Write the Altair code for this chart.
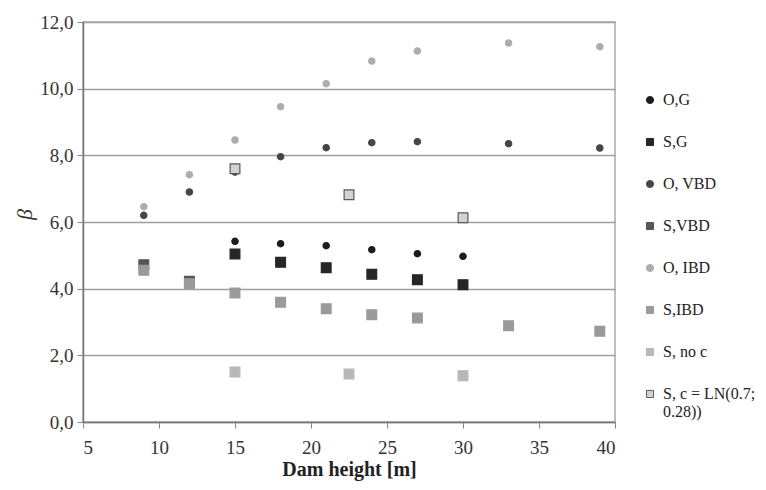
import altair as alt
import pandas as pd

series_names = ["O,G", "S,G", "O, VBD", "S,VBD", "O, IBD", "S,IBD", "S, no c",
                "S, c = LN(0.7; 0.28))"]
series_shapes = ["circle", "square", "circle", "square", "circle", "square", "square", "square"]
series_fill = ["#1c1c1c", "#262626", "#464646", "#555555", "#adadad", "#9a9a9a", "#b8b8b8", "#d2d2d2"]
series_stroke = ["#1c1c1c", "#262626", "#464646", "#555555", "#adadad", "#9a9a9a", "#b8b8b8", "#5a5a5a"]

og_x = [15, 18, 21, 24, 27, 30]
og_y = [5.42, 5.35, 5.29, 5.17, 5.05, 4.97]
sg_x = [15, 18, 21, 24, 27, 30]
sg_y = [5.04, 4.79, 4.63, 4.43, 4.27, 4.12]
ovbd_x = [9, 12, 15, 18, 21, 24, 27, 33, 39]
ovbd_y = [6.2, 6.9, 7.5, 7.96, 8.23, 8.38, 8.41, 8.35, 8.22]
svbd_x = [9, 12]
svbd_y = [4.72, 4.22]
oibd_x = [9, 12, 15, 18, 21, 24, 27, 33, 39]
oibd_y = [6.46, 7.42, 8.46, 9.46, 10.15, 10.83, 11.13, 11.37, 11.26]
sibd_x = [9, 12, 15, 18, 21, 24, 27, 33, 39]
sibd_y = [4.55, 4.15, 3.87, 3.59, 3.4, 3.22, 3.12, 2.89, 2.72]
snoc_x = [15, 22.5, 30]
snoc_y = [1.5, 1.44, 1.39]
sc_x = [15, 22.5, 30]
sc_y = [7.6, 6.82, 6.13]

all_x = [og_x, sg_x, ovbd_x, svbd_x, oibd_x, sibd_x, snoc_x, sc_x]
all_y = [og_y, sg_y, ovbd_y, svbd_y, oibd_y, sibd_y, snoc_y, sc_y]

rows = []
for name, xs, ys in zip(series_names, all_x, all_y):
    for xv, yv in zip(xs, ys):
        rows.append({"series": name, "h": xv, "beta": yv})
df = pd.DataFrame(rows)

FONT = "Liberation Serif"

legend = alt.Legend(
    title=None, orient="none", legendX=559, legendY=70,
    labelFont=FONT, labelFontSize=16, labelColor="#222",
    rowPadding=26, symbolStrokeWidth=1, symbolSize=50, labelOffset=5,
    labelExpr="datum.label == 'S, c = LN(0.7; 0.28))' ? ['S, c = LN(0.7;', '0.28))'] : datum.label",
)

chart = alt.Chart(df).mark_point(filled=True, opacity=1, strokeWidth=1.2).encode(
    x=alt.X("h:Q", scale=alt.Scale(domain=[5, 40], nice=False),
            axis=alt.Axis(values=[5, 10, 15, 20, 25, 30, 35, 40], title="Dam height [m]",
                          grid=False, titleFont=FONT, titleFontSize=20, titleFontWeight="bold",
                          titleColor="#222", titlePadding=2, labelFont=FONT, labelFontSize=19,
                          labelColor="#333", labelPadding=10, tickSize=6, tickColor="#888",
                          domainColor="#777", domainWidth=1.5)),
    y=alt.Y("beta:Q", scale=alt.Scale(domain=[0, 12], nice=False),
            axis=alt.Axis(values=[0, 2, 4, 6, 8, 10, 12], title="β", titleFont=FONT,
                          titleFontStyle="italic", titleFontSize=22, titleColor="#333",
                          titleFontWeight="normal", titleX=-47, titleY=192,
                          labelExpr="replace(format(datum.value, '.1f'), '.', ',')",
                          labelFont=FONT, labelFontSize=19, labelColor="#333", labelPadding=4,
                          tickSize=6, tickColor="#888", gridColor="#a0a0a0", gridWidth=1.6,
                          domainColor="#777", domainWidth=1.5)),
    shape=alt.Shape("series:N", scale=alt.Scale(domain=series_names, range=series_shapes),
                    legend=legend),
    fill=alt.Fill("series:N", scale=alt.Scale(domain=series_names, range=series_fill),
                  legend=legend),
    stroke=alt.Stroke("series:N", scale=alt.Scale(domain=series_names, range=series_stroke),
                      legend=legend),
    size=alt.condition("datum.series[0] == 'O'", alt.value(40), alt.value(95)),
).properties(
    width=532, height=400,
    autosize=alt.AutoSizeParams(type="none"),
    padding={"left": 75, "top": 14, "right": 143, "bottom": 60},
).configure_view(stroke="#aaa", strokeWidth=1.5)

chart.save("out.html", embed_options={"renderer": "svg", "actions": False})
